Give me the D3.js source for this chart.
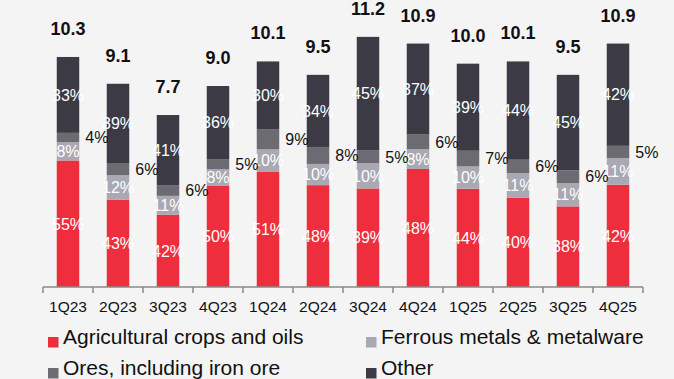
<!DOCTYPE html>
<html>
<head>
<meta charset="utf-8">
<script src="https://cdn.jsdelivr.net/npm/d3@7"></script>
<style>
  html, body { margin: 0; padding: 0; background: #f4f4f4; }
  svg { display: block; font-family: Arial, "Liberation Sans", sans-serif; }
</style>
</head>
<body>
<svg id="chart" width="674" height="379"></svg>
<script>
// Quarterly volumes (totals) and cargo mix shares (%)
const quarters = ["1Q23", "2Q23", "3Q23", "4Q23", "1Q24", "2Q24", "3Q24", "4Q24", "1Q25", "2Q25", "3Q25", "4Q25"];
const totals   = [10.3, 9.1, 7.7, 9.0, 10.1, 9.5, 11.2, 10.9, 10.0, 10.1, 9.5, 10.9];
const agriShare    = [55, 43, 42, 50, 51, 48, 39, 48, 44, 40, 38, 42];
const ferrousShare = [8, 12, 11, 8, 10, 10, 10, 8, 10, 11, 11, 11];
const oresShare    = [4, 6, 6, 5, 9, 8, 5, 6, 7, 6, 6, 5];
const otherShare   = [33, 39, 41, 36, 30, 34, 45, 37, 39, 44, 45, 42];

const seriesNames = ["Agricultural crops and oils", "Ferrous metals & metalware", "Ores, including iron ore", "Other"];
const seriesColors = ["#ee2e3c", "#a9a8b3", "#6b6b71", "#3c3b45"];
const seriesShares = [agriShare, ferrousShare, oresShare, otherShare];

const svg = d3.select("#chart");

const x = d3.scaleBand().domain(quarters).range([43, 643]).paddingInner(0.55).paddingOuter(0.275);
const step = x.step();
const y = d3.scaleLinear().domain([0, 12]).range([287, 19]);

// Build stacked rows: each segment sized by its share of the quarter total
const rows = quarters.map((q, i) => {
  const shares = seriesShares.map(s => s[i]);
  const sum = d3.sum(shares);
  const row = { quarter: q, total: totals[i] };
  seriesNames.forEach((n, k) => { row[n] = totals[i] * shares[k] / sum; row["pct_" + k] = shares[k]; });
  return row;
});

const stacked = d3.stack().keys(seriesNames)(rows);

const layers = svg.append("g").selectAll("g")
  .data(stacked)
  .join("g")
  .attr("fill", (d, k) => seriesColors[k]);

layers.selectAll("rect")
  .data(d => d)
  .join("rect")
  .attr("x", d => x(d.data.quarter))
  .attr("width", x.bandwidth())
  .attr("y", d => y(d[1]))
  .attr("height", d => y(d[0]) - y(d[1]));

// Segment share labels
stacked.forEach((layer, k) => {
  svg.append("g").selectAll("text")
    .data(layer)
    .join("text")
    .attr("x", d => k === 2 ? x(d.data.quarter) + x.bandwidth() + 6 : x(d.data.quarter) + x.bandwidth() / 2)
    .attr("y", d => (y(d[0]) + y(d[1])) / 2)
    .attr("dy", "0.36em")
    .attr("text-anchor", k === 2 ? "start" : "middle")
    .attr("font-size", 16)
    .attr("fill", k === 2 ? "#111" : "#fff")
    .text(d => d.data["pct_" + k] + "%");
});

// Totals above bars
svg.append("g").selectAll("text")
  .data(rows)
  .join("text")
  .attr("x", d => x(d.quarter) + x.bandwidth() / 2)
  .attr("y", d => y(d.total) - 22)
  .attr("text-anchor", "middle")
  .attr("font-size", 18)
  .attr("font-weight", "bold")
  .attr("fill", "#111")
  .text(d => d3.format(".1f")(d.total));

// Category axis: baseline, boundary ticks, labels
const axisG = svg.append("g").attr("transform", `translate(0,${y(0)})`);
axisG.call(d3.axisBottom(x).tickSize(0).tickPadding(0))
  .call(g => g.select(".domain").remove())
  .call(g => g.selectAll("text")
    .attr("font-size", 15.5)
    .attr("font-family", "Arial, 'Liberation Sans', sans-serif")
    .attr("fill", "#111")
    .attr("dy", null)
    .attr("y", 25));

const r = x.range();
axisG.append("line")
  .attr("x1", r[0]).attr("x2", r[1])
  .attr("stroke", "#8a8a8a").attr("stroke-width", 1.5);
axisG.append("g").selectAll("line")
  .data(d3.range(quarters.length + 1))
  .join("line")
  .attr("x1", i => r[0] + i * step).attr("x2", i => r[0] + i * step)
  .attr("y1", 0).attr("y2", 6)
  .attr("stroke", "#8a8a8a").attr("stroke-width", 1.5);

// Legend (two columns, two rows)
const legendPos = [[48, 344], [366, 344], [48, 375], [366, 375]];
const legendOrder = [0, 1, 2, 3];
const legend = svg.append("g").selectAll("g")
  .data(legendOrder)
  .join("g")
  .attr("transform", (k, i) => `translate(${legendPos[i][0]},${legendPos[i][1]})`);
legend.append("rect")
  .attr("x", 0).attr("y", -7).attr("width", 10.5).attr("height", 10.5)
  .attr("fill", k => seriesColors[k]);
legend.append("text")
  .attr("x", 15).attr("y", 0)
  .attr("font-size", 21)
  .attr("fill", "#111")
  .text(k => seriesNames[k]);
</script>
</body>
</html>
